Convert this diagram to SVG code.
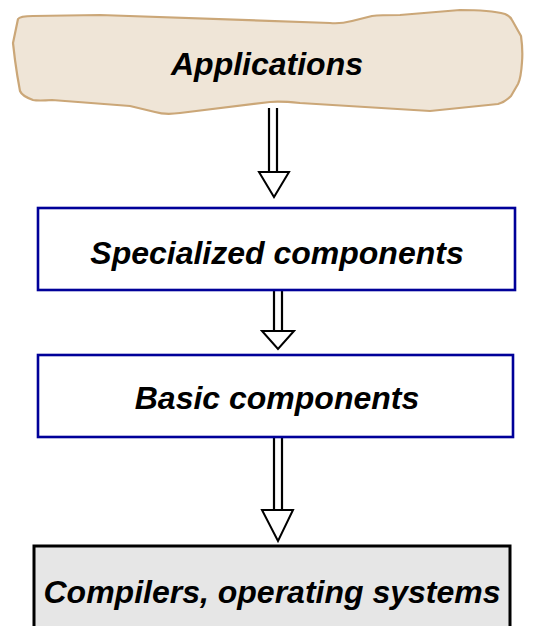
<svg xmlns="http://www.w3.org/2000/svg" width="533" height="626" viewBox="0 0 533 626">
  <defs>
    <style>
      .label { font-family: "Liberation Sans", Arial, sans-serif; font-weight: bold; font-style: italic; font-size: 32px; fill: #000; text-anchor: middle; }
      .shaft { stroke: #000; stroke-width: 2.2; fill: none; }
      .head { stroke: #000; stroke-width: 2; fill: #fff; stroke-linejoin: miter; }
      .layer { fill: #fff; stroke: #000099; stroke-width: 2.6; }
    </style>
  </defs>
  <rect width="533" height="626" fill="#fff"/>

  <!-- connectors: hollow double-line arrows between layers -->
  <g id="connectors">
    <line class="shaft" x1="269" y1="108" x2="269" y2="172"/>
    <line class="shaft" x1="277" y1="108" x2="277" y2="172"/>
    <polygon class="head" points="259,172 289,172 274,197"/>

    <line class="shaft" x1="274" y1="290" x2="274" y2="331"/>
    <line class="shaft" x1="282" y1="290" x2="282" y2="331"/>
    <polygon class="head" points="262,331 294,331 278,349"/>

    <line class="shaft" x1="274" y1="436" x2="274" y2="510"/>
    <line class="shaft" x1="282" y1="436" x2="282" y2="510"/>
    <polygon class="head" points="262,510 293,510 278,541"/>
  </g>

  <g id="applications">
    <path d="M18,19 Q20,16 33,16 L100,15 L330,23 Q340,24 352,21 L372,16 Q380,15 400,15 L460,10 Q490,10 505,14 Q510,16 512,20 L521,36 Q523,50 522,62 Q521,78 518,84 L511,96 Q505,102 498,104 L430,111 L300,103 Q280,101 270,102 L180,113 Q165,115 155,112 L130,106 L52,100 Q38,101 33,100 Q22,96 20,91 Q17,75 15,60 L13,43 Z" fill="#efe5d7" stroke="#cba778" stroke-width="2.2" stroke-linejoin="round"/>
    <text class="label" x="267" y="75">Applications</text>
  </g>

  <g id="specialized">
    <rect class="layer" x="38" y="208" width="477" height="82"/>
    <text class="label" x="277" y="264">Specialized components</text>
  </g>

  <g id="basic">
    <rect class="layer" x="38" y="355" width="475" height="82"/>
    <text class="label" x="277" y="409">Basic components</text>
  </g>

  <g id="compilers">
    <rect x="34" y="546" width="476" height="100" fill="#e6e6e6" stroke="#000" stroke-width="3"/>
    <text class="label" x="272" y="603">Compilers, operating systems</text>
  </g>
</svg>
